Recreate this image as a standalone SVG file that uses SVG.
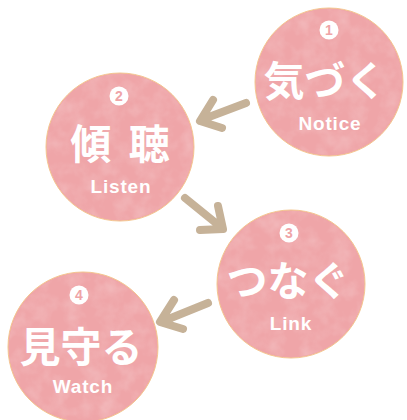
<svg xmlns="http://www.w3.org/2000/svg" width="407" height="420" viewBox="0 0 407 420">
<defs>
<filter id="tex" x="0" y="0" width="100%" height="100%">
<feTurbulence type="fractalNoise" baseFrequency="0.06" numOctaves="3" seed="4" result="n"/>
<feColorMatrix in="n" type="matrix" values="0 0 0 0 1  0 0 0 0 1  0 0 0 0 1  0 0 0 -1.2 0.75" result="w"/>
<feComposite in="w" in2="SourceGraphic" operator="in"/>
</filter>
<style>
.disc{fill:#efa5a8;stroke:#f4c68f;stroke-width:1}
.tex{fill:#fff;opacity:0.3}
.jp{font-family:"Noto Sans CJK JP","Noto Sans CJK SC",sans-serif;font-weight:700;font-size:41px;fill:#fff;text-anchor:middle}
.en{font-family:"Liberation Sans",Arial,sans-serif;font-weight:700;font-size:19px;fill:#fff;text-anchor:middle;letter-spacing:0.8px}
.nb{fill:#fff}
.nt{font-family:"Liberation Sans",Arial,sans-serif;font-weight:700;font-size:14px;fill:#efa4a7;text-anchor:middle}
.arr{fill:none;stroke:#c6b298;stroke-width:8;stroke-linecap:round;stroke-linejoin:round}
</style>
</defs>
<rect width="407" height="420" fill="#fff"/>
<g id="connectors">
<path class="arr" d="M246,103 L201,120 M213,100 L200,121 L222,128"/>
<path class="arr" d="M185,198 L222,228 M218,206 L223,229 L200,230"/>
<path class="arr" d="M208,303 L161,322 M174,300 L160,322 L183,329"/>
</g>
<g id="node1">
<circle class="disc" cx="329" cy="82" r="74"/>
<circle class="tex" cx="329" cy="82" r="73" filter="url(#tex)"/>
<circle class="nb" cx="329" cy="30" r="9.5"/>
<text class="nt" x="329" y="35">1</text>
<text class="jp" x="325" y="96">気づく</text>
<text class="en" x="330" y="130">Notice</text>
</g>
<g id="node2">
<circle class="disc" cx="120" cy="147" r="74"/>
<circle class="tex" cx="120" cy="147" r="73" filter="url(#tex)"/>
<circle class="nb" cx="119" cy="96" r="9.5"/>
<text class="nt" x="119" y="101">2</text>
<text class="jp" x="122" y="159" style="letter-spacing:4px">傾 聴</text>
<text class="en" x="121" y="193">Listen</text>
</g>
<g id="node3">
<circle class="disc" cx="291" cy="284" r="74"/>
<circle class="tex" cx="291" cy="284" r="73" filter="url(#tex)"/>
<circle class="nb" cx="289" cy="233" r="9.5"/>
<text class="nt" x="289" y="238">3</text>
<text class="jp" x="288" y="296">つなぐ</text>
<text class="en" x="291" y="330">Link</text>
</g>
<g id="node4">
<circle class="disc" cx="83" cy="347" r="75"/>
<circle class="tex" cx="83" cy="347" r="74" filter="url(#tex)"/>
<circle class="nb" cx="79" cy="295" r="9.5"/>
<text class="nt" x="79" y="300">4</text>
<text class="jp" x="81" y="362">見守る</text>
<text class="en" x="83" y="393">Watch</text>
</g>
</svg>
